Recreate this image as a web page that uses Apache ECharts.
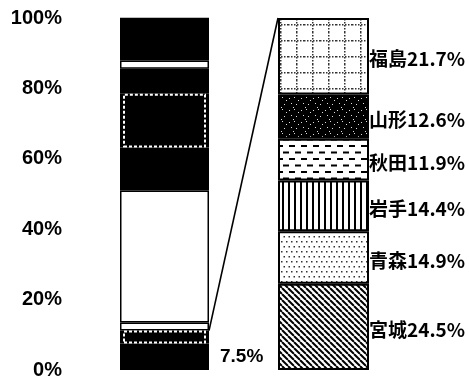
<!DOCTYPE html>
<html><head><meta charset="utf-8">
<script src="https://cdn.jsdelivr.net/npm/echarts@6/dist/echarts.min.js"></script>
<style>html,body{margin:0;padding:0;background:#fff}#c{width:469px;height:383px}</style>
</head><body><div id="c"></div><script>
// Overall composition, bottom to top (percent)
const totalShares = [7.5, 3.7, 2.3, 37.5, 12.2, 15.3, 7.1, 2.3, 12.2];
// Index of the segment that is broken down in the right-hand bar
const detailIndex = 1;
// Breakdown by prefecture, bottom to top (percent)
const prefectures = ['宮城', '青森', '岩手', '秋田', '山形', '福島'];
const prefectureShares = [24.5, 14.9, 14.4, 11.9, 12.6, 21.7];
// Value-axis ticks (percent)
const axisTicks = [0, 20, 40, 60, 80, 100];

// Fill of each overall segment and whether it carries an inset dashed frame
const totalFills = ['#000', '#000', '#fff', '#fff', '#000', '#000', '#000', '#fff', '#000'];
const totalFramed = [false, true, false, false, false, true, false, false, false];

function makeCanvas(w, h, bg) {
  const c = document.createElement('canvas');
  c.width = w; c.height = h;
  const g = c.getContext('2d');
  g.fillStyle = bg; g.fillRect(0, 0, w, h);
  return [c, g];
}
// Hatch patterns for the prefecture segments
function gridDots() {            // dotted grid
  const [c, g] = makeCanvas(16, 16, '#fff');
  g.fillStyle = '#333';
  for (let i = 0; i < 16; i += 3) { g.fillRect(i, 8, 1.5, 1.5); g.fillRect(8, i, 1.5, 1.5); }
  return c;
}
function darkSpeckle() {         // black with sparse white speckles
  const [c, g] = makeCanvas(12, 12, '#000');
  g.fillStyle = '#ddd';
  [[1,2],[6,1],[10,4],[3,7],[8,8],[5,11]].forEach(([x, y]) => g.fillRect(x, y, 1, 1));
  return c;
}
function dashes() {              // staggered short dashes
  const [c, g] = makeCanvas(12, 13, '#fff');
  g.fillStyle = '#000';
  g.fillRect(1, 2, 6, 2); g.fillRect(7, 8.5, 6, 2); g.fillRect(-5, 8.5, 6, 2);
  return c;
}
function verticals() {           // vertical lines
  const [c, g] = makeCanvas(6, 6, '#fff');
  g.fillStyle = '#000'; g.fillRect(0, 0, 2, 6);
  return c;
}
function dots() {                // sparse stipple
  const [c, g] = makeCanvas(10, 10, '#fff');
  g.fillStyle = '#333';
  [[1,1],[6,1],[3.5,6],[8.5,6]].forEach(([x, y]) => g.fillRect(x, y, 1.5, 1.5));
  return c;
}
function diagonals() {           // top-left to bottom-right hatching
  const [c, g] = makeCanvas(6, 6, '#fff');
  g.strokeStyle = '#000'; g.lineWidth = 2;
  [-6, 0, 6].forEach(o => { g.beginPath(); g.moveTo(o, 0); g.lineTo(o + 6, 6); g.stroke(); });
  return c;
}
const prefecturePatterns = [diagonals(), dots(), verticals(), dashes(), darkSpeckle(), gridDots()];

const chart = echarts.init(document.getElementById('c'), null, { renderer: 'canvas' });

const hiddenCat = (gridIndex, name) => ({
  type: 'category', gridIndex, data: [name],
  axisLine: { show: false }, axisTick: { show: false }, axisLabel: { show: false }
});
const valueAxis = (gridIndex, showLabels) => ({
  type: 'value', gridIndex,
  min: axisTicks[0], max: axisTicks[axisTicks.length - 1], interval: axisTicks[1] - axisTicks[0],
  axisLine: { show: false }, axisTick: { show: false }, splitLine: { show: false },
  axisLabel: {
    show: showLabels, formatter: '{value}%', margin: 58, padding: [5, 0, 0, 0],
    fontFamily: 'Liberation Sans', fontWeight: 'bold', fontSize: 20, color: '#000'
  }
});

const series = [];
// Overall bar
totalShares.forEach((v, i) => {
  series.push({
    type: 'bar', name: 'total' + i, stack: 'total', xAxisIndex: 0, yAxisIndex: 0,
    barWidth: '100%', data: [v], silent: true,
    itemStyle: { color: totalFills[i], borderColor: '#000', borderWidth: 1.5 },
    label: i === 0 ? {
      show: true, position: 'right', distance: 11, formatter: v + '%',
      fontFamily: 'Liberation Sans', fontWeight: 'bold', fontSize: 19, color: '#000'
    } : { show: false }
  });
});
// Inset dashed frames drawn over the framed segments
totalShares.forEach((v, i) => {
  series.push({
    type: 'bar', name: 'frame' + i, stack: 'frame', xAxisIndex: 2, yAxisIndex: 2,
    barWidth: '100%', data: [v], silent: true,
    itemStyle: totalFramed[i]
      ? { color: '#000', borderColor: '#fff', borderWidth: 2, borderType: [3, 2] }
      : { color: 'transparent', borderWidth: 0 }
  });
});
// Prefecture breakdown bar
prefectureShares.forEach((v, i) => {
  series.push({
    type: 'bar', name: prefectures[i], stack: 'pref', xAxisIndex: 1, yAxisIndex: 1,
    barWidth: '100%', data: [v], silent: true,
    itemStyle: { color: { image: prefecturePatterns[i], repeat: 'repeat' }, borderColor: '#000', borderWidth: 2 },
    label: {
      show: true, position: 'right', distance: 0, offset: [0, 3],
      formatter: p => p.seriesName + p.value + '%',
      fontFamily: 'Noto Sans CJK JP', fontWeight: 'bold', fontSize: 19, color: '#000'
    }
  });
});

chart.setOption({
  animation: false,
  backgroundColor: '#fff',
  grid: [
    { left: 120, width: 89, top: 18, bottom: 13 },
    { left: 278, width: 91, top: 18, bottom: 13 },
    { left: 123, width: 83, top: 18, bottom: 13 }
  ],
  xAxis: [hiddenCat(0, 'all'), hiddenCat(1, 'pref'), hiddenCat(2, 'frame')],
  yAxis: [valueAxis(0, true), valueAxis(1, false), valueAxis(2, false)],
  series
});

// Connector from the broken-down segment to the top of the breakdown bar
const detailTop = totalShares.slice(0, detailIndex + 1).reduce((a, b) => a + b, 0);
const model = chart.getModel();
const leftPt = chart.convertToPixel({ gridIndex: 0 }, [0, detailTop]);
const leftHalf = model.getComponent('xAxis', 0).axis.getBandWidth() / 2;
const rightPt = chart.convertToPixel({ gridIndex: 1 }, [0, axisTicks[axisTicks.length - 1]]);
const rightHalf = model.getComponent('xAxis', 1).axis.getBandWidth() / 2;
chart.setOption({
  graphic: [{
    type: 'line', silent: true,
    shape: { x1: leftPt[0] + leftHalf, y1: leftPt[1], x2: rightPt[0] - rightHalf, y2: rightPt[1] },
    style: { stroke: '#000', lineWidth: 1.6 }
  }]
});
</script></body></html>
